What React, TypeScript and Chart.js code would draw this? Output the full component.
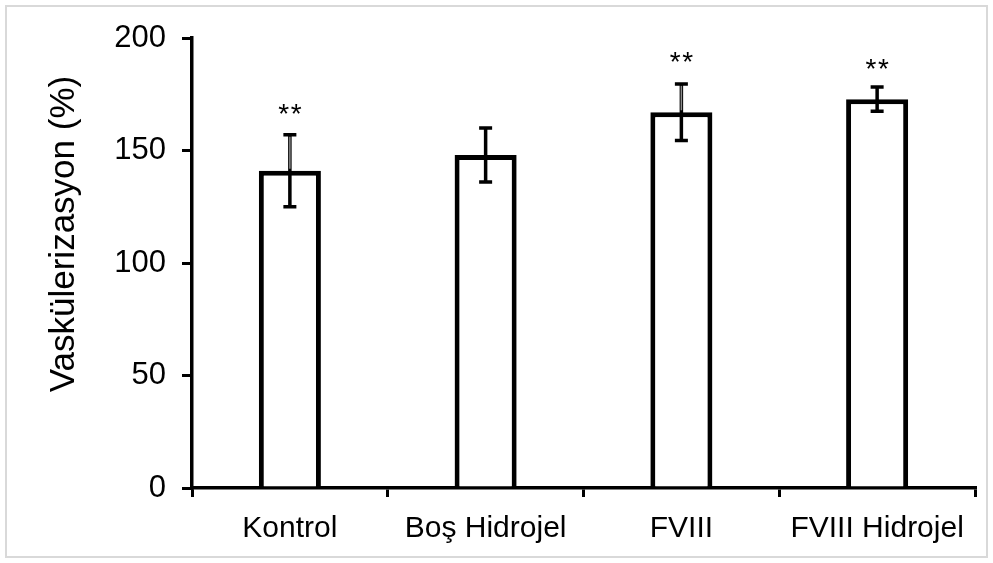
import React, { useEffect, useRef } from "react";
import { Chart, registerables } from "chart.js";

Chart.register(...registerables);

const categories = ["Kontrol", "Boş Hidrojel", "FVIII", "FVIII Hidrojel"];
const meanValues = [141, 148, 167, 172.8];
const errorValues = [16, 12, 12.6, 5.4];
const significance = ["**", "", "**", "**"];
const starValues = [169.3, 0, 192.4, 188.9];
const yTicks = [0, 50, 100, 150, 200];
const yTitle = "Vaskülerizasyon (%)";

const FONT = "Arial, 'Liberation Sans', sans-serif";

const overlayPlugin = {
  id: "overlay",
  afterDatasetsDraw(chart: any) {
    const ctx = chart.ctx;
    const x = chart.scales.x;
    const y = chart.scales.y;
    ctx.save();
    categories.forEach((_, i) => {
      const cx = x.getPixelForValue(i);
      const top = y.getPixelForValue(meanValues[i] + errorValues[i]);
      const bot = y.getPixelForValue(meanValues[i] - errorValues[i]);
      const barTop = y.getPixelForValue(meanValues[i]);
      ctx.strokeStyle = "#000";
      ctx.lineWidth = 3.5;
      ctx.beginPath();
      ctx.moveTo(cx, top);
      ctx.lineTo(cx, bot);
      ctx.moveTo(cx - 6.5, top);
      ctx.lineTo(cx + 6.5, top);
      ctx.moveTo(cx - 6.5, bot);
      ctx.lineTo(cx + 6.5, bot);
      ctx.stroke();
      if (significance[i]) {
        if (i !== 3) {
          ctx.strokeStyle = "#8c8c8c";
          ctx.lineWidth = 1.5;
          ctx.beginPath();
          ctx.moveTo(cx, top + 2);
          ctx.lineTo(cx, barTop - 2);
          ctx.stroke();
        }
        ctx.fillStyle = "#000";
        ctx.font = `28px ${FONT}`;
        ctx.textAlign = "center";
        ctx.textBaseline = "alphabetic";
        const sy = y.getPixelForValue(starValues[i]) + 15.5;
        const chars = significance[i].split("");
        const step = 12.5;
        chars.forEach((c, k) => {
          ctx.fillText(c, cx + (k - (chars.length - 1) / 2) * step, sy);
        });
      }
    });
    ctx.restore();
  },
  afterDraw(chart: any) {
    const ctx = chart.ctx;
    ctx.save();
    ctx.translate(64, 234);
    ctx.rotate(-Math.PI / 2);
    ctx.fillStyle = "#000";
    ctx.font = `35px ${FONT}`;
    ctx.textAlign = "center";
    ctx.textBaseline = "middle";
    ctx.fillText(yTitle, 0, 0);
    ctx.restore();
    ctx.save();
    ctx.strokeStyle = "#d9d9d9";
    ctx.lineWidth = 2;
    ctx.strokeRect(6, 6, chart.width - 12, chart.height - 12);
    ctx.restore();
  },
};

export default function App() {
  const ref = useRef<HTMLCanvasElement | null>(null);
  useEffect(() => {
    document.body.style.margin = "0";
    const chart = new Chart(ref.current as HTMLCanvasElement, {
      type: "bar",
      data: {
        labels: categories,
        datasets: [
          {
            data: meanValues,
            backgroundColor: "#ffffff",
            borderColor: "#000000",
            borderWidth: 5,
            categoryPercentage: 1,
            barPercentage: 0.317,
          },
        ],
      },
      options: {
        responsive: false,
        animation: false,
        layout: { padding: { top: 38, right: 18, left: 0, bottom: 0 } },
        plugins: { legend: { display: false }, tooltip: { enabled: false } },
        scales: {
          x: {
            grid: {
              display: true,
              drawOnChartArea: false,
              drawTicks: true,
              tickLength: 9,
              color: "#000",
              lineWidth: 3,
              offset: true,
            },
            border: { display: true, color: "#000", width: 3.5 },
            ticks: {
              color: "#000",
              font: { family: FONT, size: 30 },
              padding: 14,
              maxRotation: 0,
              autoSkip: false,
            },
            afterFit: (s: any) => {
              s.height = 75;
            },
          },
          y: {
            min: 0,
            max: 200,
            afterBuildTicks: (s: any) => {
              s.ticks = yTicks.map((v) => ({ value: v }));
            },
            grid: {
              display: true,
              drawOnChartArea: false,
              drawTicks: true,
              tickLength: 10,
              color: "#000",
              lineWidth: 3,
            },
            border: { display: true, color: "#000", width: 3.5 },
            ticks: {
              color: "#000",
              font: { family: FONT, size: 31 },
              padding: 16,
            },
            afterFit: (s: any) => {
              s.width = 192;
            },
          },
        },
      },
      plugins: [overlayPlugin],
    });
    return () => chart.destroy();
  }, []);
  return (
    <div style={{ position: "absolute", left: 0, top: 0, width: 993, height: 563 }}>
      <canvas ref={ref} width={993} height={563} style={{ width: 993, height: 563 }} />
    </div>
  );
}
